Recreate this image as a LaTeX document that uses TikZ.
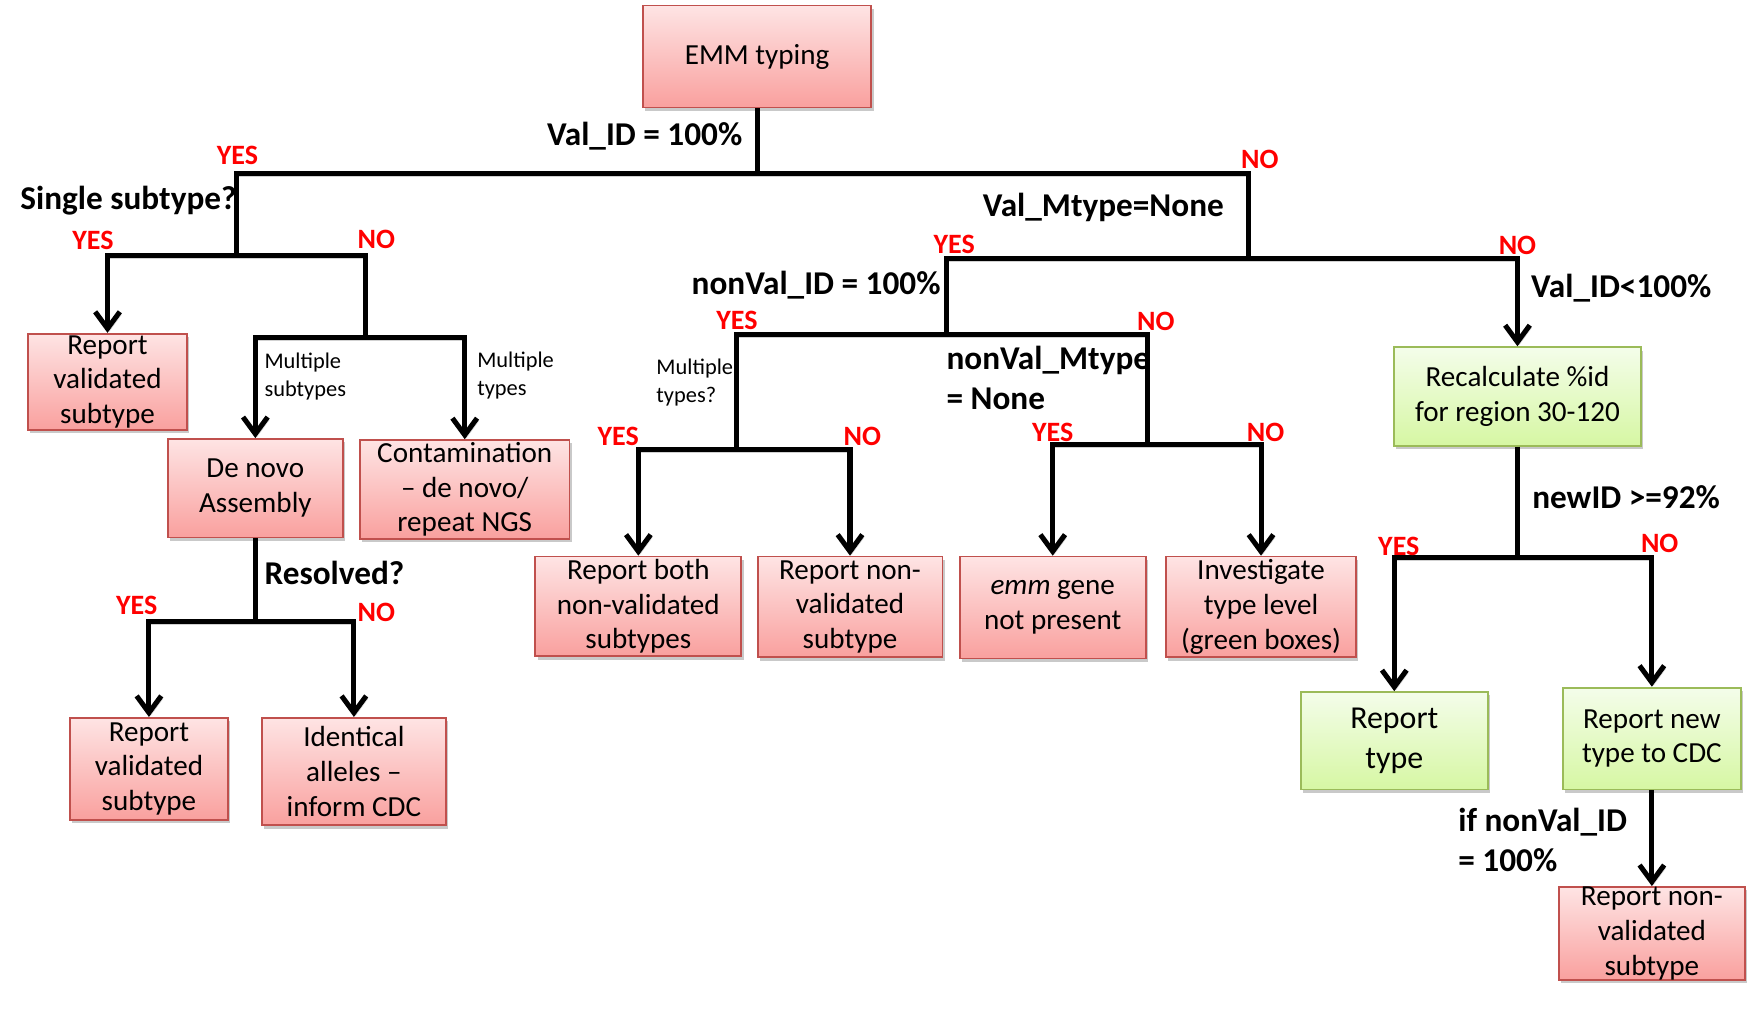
\documentclass[tikz,border=0pt]{standalone}
\usepackage{fontspec}
\setmainfont{Carlito}
\usetikzlibrary{arrows.meta,shadows}
\definecolor{pinkT}{RGB}{254,228,228}
\definecolor{pinkB}{RGB}{249,160,158}
\definecolor{bordR}{RGB}{192,80,77}
\definecolor{greenT}{RGB}{244,253,234}
\definecolor{greenB}{RGB}{214,247,163}
\definecolor{bordG}{RGB}{155,187,89}
\tikzset{
  box/.style={draw=bordR, line width=1.6pt, top color=pinkT, bottom color=pinkB,
    align=center, inner sep=0pt, font=\fontsize{26}{31}\selectfont,
    drop shadow={shadow xshift=2pt, shadow yshift=-3pt, opacity=0.3, fill=black!70}},
  gbox/.style={box, draw=bordG, top color=greenT, bottom color=greenB},
  conn/.style={line width=4.5pt, black,
    preaction={draw=black!18, transform canvas={xshift=1.5pt,yshift=-2.5pt}}},
  arr/.style={conn, -{Straight Barb[length=15pt,width=22pt]}},
  arrs/.style={conn, {Straight Barb[length=15pt,width=22pt]}-{Straight Barb[length=15pt,width=22pt]}},
  lab/.style={font=\bfseries\fontsize{29.7}{35}\selectfont, inner sep=0pt, align=left},
  yn/.style={font=\bfseries\fontsize{25}{28}\selectfont, text=red, inner sep=0pt},
  small/.style={font=\fontsize{20}{25}\selectfont, inner sep=0pt, align=left},
}
\begin{document}
\begin{tikzpicture}[x=1pt,y=-1pt]
\useasboundingbox (0,0) rectangle (1568,904);

% junction coordinates
\coordinate (cA) at (676,155);
\coordinate (cL1) at (211,155);
\coordinate (cR1) at (1115,155);
\coordinate (cL2) at (211,228);
\coordinate (cL2a) at (96,228);
\coordinate (cL2b) at (326,228);
\coordinate (cL3) at (326,301);
\coordinate (cL3a) at (228,301);
\coordinate (cL3b) at (415,301);
\coordinate (cL4) at (228,555);
\coordinate (cL4a) at (133,555);
\coordinate (cL4b) at (316,555);
\coordinate (cM1) at (1115,231);
\coordinate (cM1a) at (845,231);
\coordinate (cM1b) at (1355,231);
\coordinate (cM2) at (845,299);
\coordinate (cM2a) at (658,299);
\coordinate (cM2b) at (1025,299);
\coordinate (cM3) at (658,401);
\coordinate (cM3a) at (570,401);
\coordinate (cM3b) at (759,401);
\coordinate (cM4) at (1025,397);
\coordinate (cM4a) at (940,397);
\coordinate (cM4b) at (1126,397);
\coordinate (cR2) at (1355,498);
\coordinate (cR2a) at (1245,498);
\coordinate (cR2b) at (1475,498);

% boxes
\node[box, minimum width=204pt, minimum height=91pt] (emm) at (676,50.5) {EMM typing};
\node[box, minimum width=142pt, minimum height=86pt] (rv1) at (96,341) {Report\\validated\\subtype};
\node[box, minimum width=156pt, minimum height=88pt] (denovo) at (228,436) {De novo\\Assembly};
\node[box, minimum width=187pt, minimum height=88pt] (contam) at (415,437) {Contamination\\– de novo/\\repeat NGS};
\node[box, minimum width=141pt, minimum height=91pt] (rv2) at (133,686.5) {Report\\validated\\subtype};
\node[box, minimum width=164pt, minimum height=96pt] (ident) at (316,689) {Identical\\alleles –\\inform CDC};
\node[box, minimum width=184pt, minimum height=89pt] (both) at (570,541.5) {Report both\\non-validated\\subtypes};
\node[box, minimum width=165pt, minimum height=90pt] (nonval1) at (759,542) {Report non-\\validated\\subtype};
\node[box, minimum width=166pt, minimum height=91pt] (emmgene) at (940,542.5) {\textit{emm} gene\\not present};
\node[box, minimum width=170pt, minimum height=90pt] (invest) at (1126,542) {Investigate\\type level\\(green boxes)};
\node[gbox, minimum width=221pt, minimum height=88pt] (recalc) at (1355,354) {Recalculate \%id\\for region 30-120};
\node[gbox, minimum width=167pt, minimum height=87pt, font=\fontsize{28.5}{35}\selectfont] (reptype) at (1245,661.5) {Report\\type};
\node[gbox, minimum width=159pt, minimum height=91pt] (newtype) at (1475,659.5) {Report new\\type to CDC};
\node[box, minimum width=166pt, minimum height=83pt] (nonval2) at (1475,833.5) {Report non-\\validated\\subtype};

% connectors
\draw[conn] (emm.south) -- (cA);
\draw[conn] (cL2) -- (cL1) -- (cR1) -- (cM1);
\draw[arr] (cL3) -- (cL2b) -- (cL2a) -- (rv1.north);
\draw[arrs] (denovo.north) -- (cL3a) -- (cL3b) -- (contam.north);
\draw[conn] (denovo.south) -- (cL4);
\draw[arrs] (rv2.north) -- (cL4a) -- (cL4b) -- (ident.north);
\draw[arr] (cM2) -- (cM1a) -- (cM1b) -- (recalc.north);
\draw[conn] (cM3) -- (cM2a) -- (cM2b) -- (cM4);
\draw[arrs] (both.north) -- (cM3a) -- (cM3b) -- (nonval1.north);
\draw[arrs] (emmgene.north) -- (cM4a) -- (cM4b) -- (invest.north);
\draw[conn] (recalc.south) -- (cR2);
\draw[arrs] (reptype.north) -- (cR2a) -- (cR2b) -- (newtype.north);
\draw[arr] (newtype.south) -- (nonval2.north);

% black labels
\node[lab, anchor=east] (t1) at (663,122) {Val\_ID = 100\%};
\node[lab, anchor=west] (t2) at (18,179) {Single subtype?};
\node[lab, anchor=east] (t3) at (1093,185) {Val\_Mtype=None};
\node[lab, anchor=east] (t4) at (840,255) {nonVal\_ID = 100\%};
\node[lab, anchor=west] (t5) at (1367,257) {Val\_ID<100\%};
\node[lab, anchor=west] (t6) at (845,337.5) {nonVal\_Mtype\\= None};
\node[lab, anchor=west] (t7) at (236,512) {Resolved?};
\node[lab, anchor=west] (t8) at (1368,444) {newID >=92\%};
\node[lab, anchor=west] (t9) at (1302,750) {if nonVal\_ID\\= 100\%};

% small labels
\node[small, anchor=west] (s1) at (236,336) {Multiple\\subtypes};
\node[small, anchor=west] (s2) at (426,335) {Multiple\\types};
\node[small, anchor=west] (s3) at (586,342) {Multiple\\types?};

% YES / NO
\node[yn] (y1) at (212,139) {YES};
\node[yn] (n1) at (1125,142) {NO};
\node[yn] (y2) at (83,215) {YES};
\node[yn] (n2) at (336,214) {NO};
\node[yn] (y3) at (122,541) {YES};
\node[yn] (n3) at (336,547) {NO};
\node[yn] (y4) at (852,218) {YES};
\node[yn] (n4) at (1355,219) {NO};
\node[yn] (y5) at (658,286) {YES};
\node[yn] (n5) at (1032,287) {NO};
\node[yn] (y6) at (552,390) {YES};
\node[yn] (n6) at (770,390) {NO};
\node[yn] (y7) at (940,386) {YES};
\node[yn] (n7) at (1130,386) {NO};
\node[yn] (y8) at (1249,488) {YES};
\node[yn] (n8) at (1482,485) {NO};
\end{tikzpicture}
\end{document}
